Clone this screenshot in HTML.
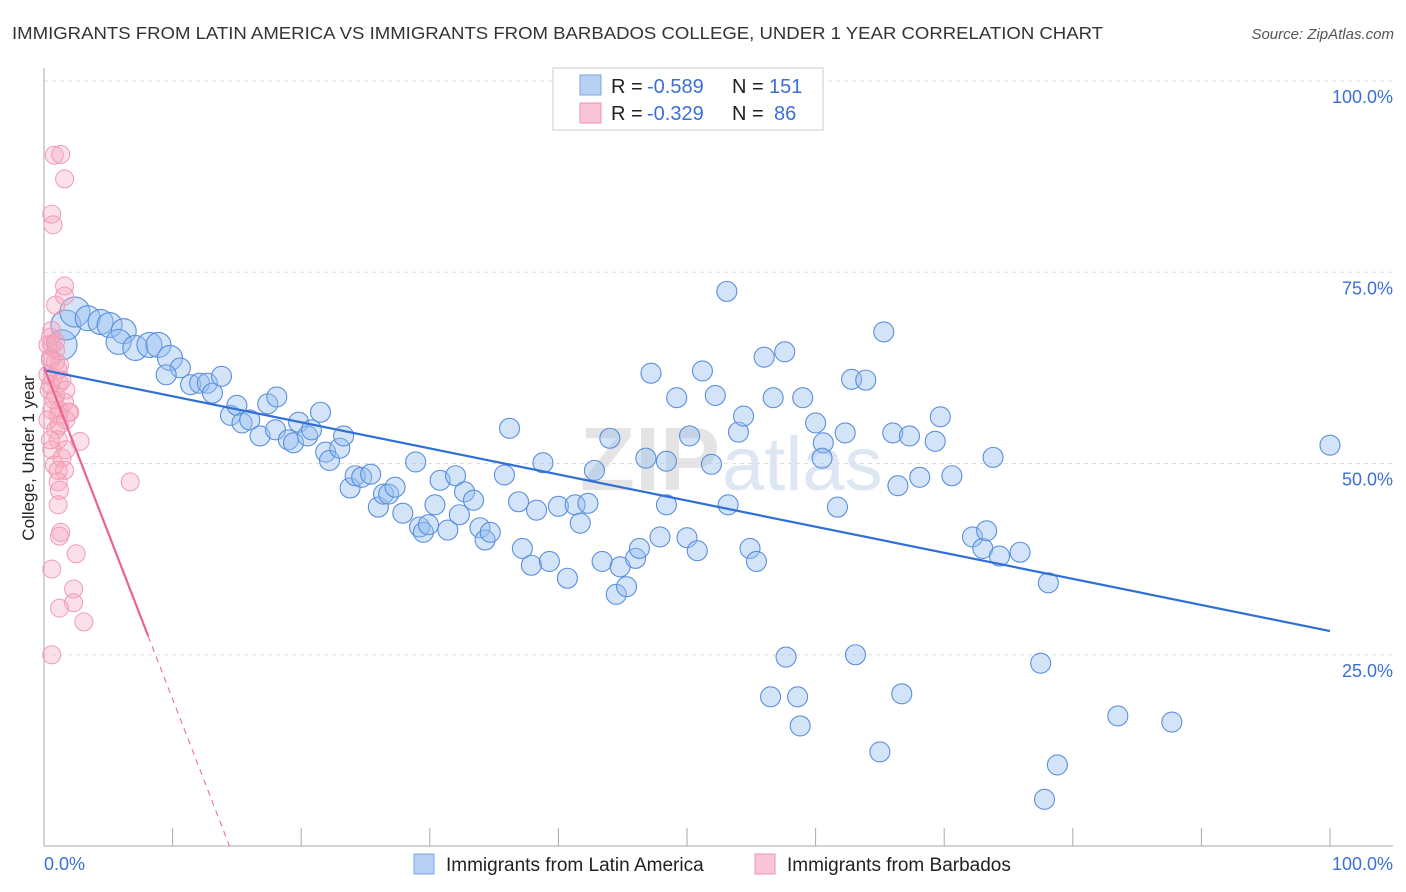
<!DOCTYPE html>
<html><head><meta charset="utf-8">
<style>
body{margin:0;background:#fff;font-family:"Liberation Sans",sans-serif;}
#wrap{position:relative;width:1406px;height:892px;overflow:hidden;}
</style></head>
<body>
<div id="wrap">
<svg id="chart" width="1406" height="892">
  <text x="12" y="39" font-size="17.5" fill="#333" textLength="1091" lengthAdjust="spacingAndGlyphs">IMMIGRANTS FROM LATIN AMERICA VS IMMIGRANTS FROM BARBADOS COLLEGE, UNDER 1 YEAR CORRELATION CHART</text>
  <text x="1394" y="39" font-size="15" fill="#555" font-style="italic" text-anchor="end">Source: ZipAtlas.com</text>
  <text x="720" y="490" font-size="90" fill="#e4e4e4" text-anchor="end" font-weight="bold">ZIP</text>
  <text x="722" y="490" font-size="76" fill="#dde6f3">atlas</text>
  <g id="grid"></g><g id="axes"></g><g id="pts"></g><g id="lines"></g>
  <text transform="translate(34,458) rotate(-90)" font-size="17" fill="#222" text-anchor="middle">College, Under 1 year</text>
  <g>
    <rect x="553" y="68" width="270" height="62" fill="#fff" stroke="#ccc"/>
    <rect x="580" y="75" width="21" height="20" fill="#b8d0f3" stroke="#7aa5e3"/>
    <rect x="580" y="103" width="21" height="20" fill="#f9c6d6" stroke="#ee93b0"/>
    <text x="611" y="93" font-size="20" fill="#222">R =</text>
    <text x="647" y="93" font-size="20" fill="#3a70d4">-0.589</text>
    <text x="732" y="93" font-size="20" fill="#222">N =</text>
    <text x="769" y="93" font-size="20" fill="#3a70d4">151</text>
    <text x="611" y="120" font-size="20" fill="#222">R =</text>
    <text x="647" y="120" font-size="20" fill="#3a70d4">-0.329</text>
    <text x="732" y="120" font-size="20" fill="#222">N =</text>
    <text x="774" y="120" font-size="20" fill="#3a70d4">86</text>
  </g>
  <g>
    <rect x="414" y="854" width="20" height="20" fill="#b8d0f3" stroke="#7aa5e3"/>
    <text x="446" y="871" font-size="19" fill="#222">Immigrants from Latin America</text>
    <rect x="755" y="854" width="20" height="20" fill="#f9c6d6" stroke="#ee93b0"/>
    <text x="787" y="871" font-size="19" fill="#222">Immigrants from Barbados</text>
  </g>
</svg>
</div>
<script>
const blueX=[1.4,1.7,2.4,3.4,4.4,5.1,6.2,5.8,7.1,8.2,8.9,9.8,10.6,9.5,11.4,12.1,12.7,13.1,13.8,14.5,15.0,15.4,16.0,16.8,17.4,18.1,18.0,19.0,19.4,19.8,20.5,20.8,21.5,21.9,22.2,23.0,23.3,23.8,24.2,24.7,25.4,26.0,26.4,26.8,27.3,27.9,28.9,29.2,29.5,29.9,30.4,30.8,31.4,32.0,32.3,32.7,33.4,33.9,34.3,34.7,35.8,36.2,36.9,37.2,37.9,38.3,38.8,39.3,40.0,40.7,41.3,41.7,42.3,42.8,43.4,44.0,44.8,44.5,45.3,46.0,46.3,46.8,47.2,47.9,48.4,48.4,49.2,50.0,50.2,50.8,51.2,51.9,52.2,53.1,53.2,54.0,54.4,54.9,55.4,56.0,56.7,56.5,57.6,57.7,58.6,58.8,59.0,60.0,60.6,60.5,61.7,62.3,62.8,63.1,63.9,65.0,65.3,66.0,66.4,66.7,67.3,68.1,69.3,69.7,70.6,72.2,73.0,73.3,73.8,74.3,75.9,77.5,77.8,78.1,78.8,83.5,87.7,100.0];
const blueY=[65.5,68.1,69.8,69.0,68.5,68.1,67.3,65.9,65.1,65.5,65.5,63.8,62.5,61.6,60.3,60.5,60.5,59.2,61.4,56.3,57.6,55.3,55.7,53.6,57.8,58.7,54.4,53.1,52.7,55.4,53.6,54.4,56.7,51.5,50.4,52.0,53.6,46.8,48.4,48.2,48.6,44.3,46.0,46.0,46.9,43.5,50.2,41.7,41.0,42.0,44.6,47.8,41.3,48.4,43.3,46.3,45.2,41.6,40.0,41.0,48.5,54.6,45.0,38.9,36.7,43.9,50.1,37.2,44.4,35.0,44.6,42.2,44.8,49.1,37.2,53.3,36.5,32.9,33.9,37.6,38.9,50.7,61.8,40.4,44.6,50.3,58.6,40.3,53.6,38.6,62.1,49.9,58.9,72.5,44.6,54.1,56.2,38.9,37.2,63.9,58.6,19.5,64.6,24.7,19.5,15.7,58.6,55.3,52.7,50.7,44.3,54.0,61.0,25.0,60.9,12.3,67.2,54.0,47.1,19.9,53.6,48.2,52.9,56.1,48.4,40.4,38.9,41.2,50.8,37.9,38.4,23.9,6.1,34.4,10.6,17.0,16.2,52.4];
const pinkX=[0.8,1.3,1.6,0.6,0.7,1.6,0.9,1.6,0.6,0.5,0.6,0.9,0.5,0.9,1.1,0.7,1.2,0.4,0.9,1.6,0.6,1.2,1.9,1.7,0.9,2.8,1.1,0.6,1.4,0.8,1.6,6.7,1.1,1.2,1.1,1.3,1.2,2.5,0.6,2.3,2.3,1.2,3.1,0.6,0.3,0.5,0.3,0.5,0.9,1.2,1.4,0.8,1.1,0.3,1.7,1.2,2.0,0.5,1.1,1.7];
const pinkY=[90.3,90.4,87.2,82.6,81.2,73.2,70.7,71.9,67.4,66.5,65.5,64.8,63.9,63.3,62.2,61.2,60.5,59.6,58.9,58.0,57.0,57.0,56.7,55.7,54.4,52.9,53.1,51.8,50.7,49.8,49.1,47.6,47.6,46.5,44.6,41.0,40.5,38.2,36.2,33.6,31.8,31.1,29.3,25.0,65.5,63.5,61.6,60.3,65.9,62.9,60.9,58.3,56.3,55.7,59.6,55.0,56.7,53.1,49.1,51.8];
const blueTrend=[62.2,28.1];   // y at x=0 and x=100
const pinkTrend=[62.6,-4.34];  // intercept, slope
const pinkSolidEnd=8.1;
const yTicks=[25,50,75,100];
const yTickLabels=["25.0%","50.0%","75.0%","100.0%"];
const xTicks=[0,10,20,30,40,50,60,70,80,90,100];

const X0=44,X1=1330,Y0=846,Y1=81;
const sx=v=>X0+v*(X1-X0)/100;
const sy=v=>Y0-v*(Y0-Y1)/100;
const NS="http://www.w3.org/2000/svg";
function mk(parent,tag,attrs){const e=document.createElementNS(NS,tag);for(const k in attrs)e.setAttribute(k,attrs[k]);document.getElementById(parent).appendChild(e);return e;}

yTicks.forEach((t,i)=>{
  const g=mk('grid','line',{x1:X0,x2:1393,y1:sy(t),y2:sy(t),stroke:'#ddd','stroke-dasharray':'4,4'});
  
  
  const l=mk('axes','text',{x:1393,y:sy(t)+22,'font-size':18,fill:'#3a70d4','text-anchor':'end'});
  l.textContent=yTickLabels[i];
  
  
});
const ax=mk('axes','line',{x1:X0,x2:X0,y1:68,y2:Y0,stroke:'#aaa'});


const bx=mk('axes','line',{x1:X0,x2:1393,y1:Y0,y2:Y0,stroke:'#aaa'});


xTicks.forEach(t=>{
  const tk=mk('axes','line',{x1:sx(t),x2:sx(t),y1:Y0,y2:Y0-18,stroke:'#aaa'});
  
  
});
const xl0=mk('axes','text',{x:44,y:870,'font-size':18,fill:'#3a70d4'});xl0.textContent='0.0%';


const xl1=mk('axes','text',{x:1393,y:870,'font-size':18,fill:'#3a70d4','text-anchor':'end'});xl1.textContent='100.0%';



blueX.forEach((x,i)=>{
  const r=i<12?(i<3?15:12.5):10;
  const c=mk('pts','circle',{cx:sx(x),cy:sy(blueY[i]),r:r,fill:'rgba(150,190,240,0.42)',stroke:'#5b8fdb','stroke-width':1.1});
  
  
});
pinkX.forEach((x,i)=>{
  const c=mk('pts','circle',{cx:sx(x),cy:sy(pinkY[i]),r:9,fill:'rgba(245,165,190,0.35)',stroke:'#ef9bb6','stroke-width':1});
  
  
});
const bl=mk('lines','line',{x1:sx(0),y1:sy(blueTrend[0]),x2:sx(100),y2:sy(blueTrend[1]),stroke:'#2f6fd6','stroke-width':2.2});


const pY=x=>pinkTrend[0]+pinkTrend[1]*x;
const pl=mk('lines','line',{x1:sx(0),y1:sy(pY(0)),x2:sx(pinkSolidEnd),y2:sy(pY(pinkSolidEnd)),stroke:'#e8658f','stroke-width':2.2});


const xz=-pinkTrend[0]/pinkTrend[1];
const pd=mk('lines','line',{x1:sx(pinkSolidEnd),y1:sy(pY(pinkSolidEnd)),x2:sx(xz),y2:sy(0),stroke:'#e8658f','stroke-width':1,'stroke-dasharray':'6,5'});


</script>
</body></html>
